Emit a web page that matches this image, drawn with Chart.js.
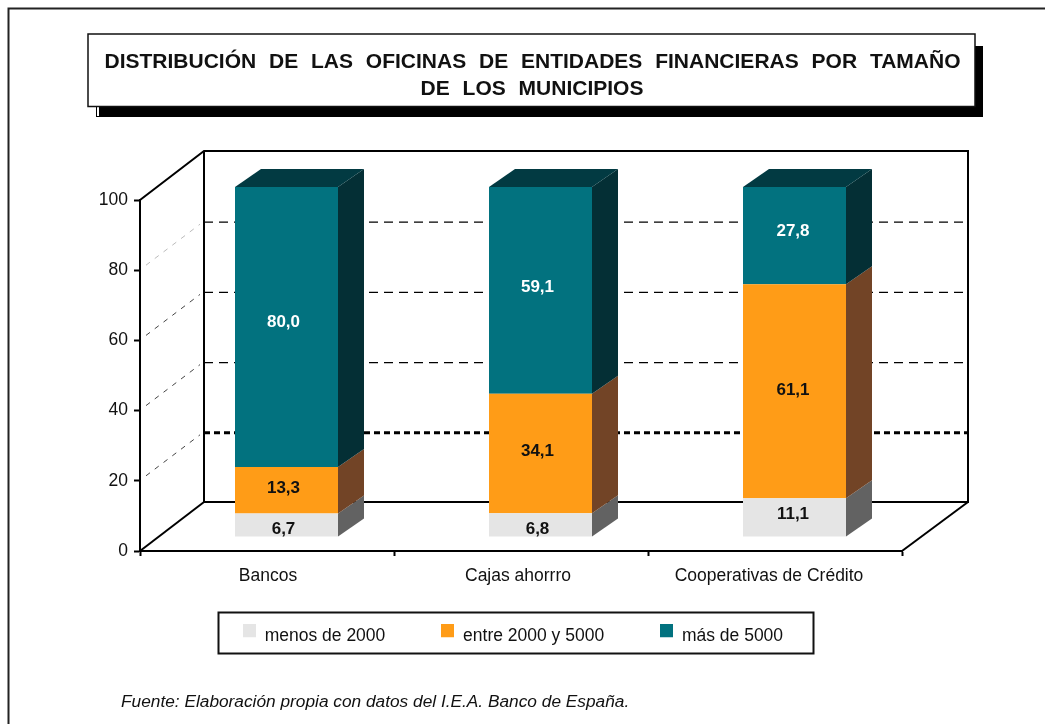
<!DOCTYPE html>
<html lang="es"><head><meta charset="utf-8">
<style>html,body{margin:0;padding:0;background:#fff}canvas{display:block}</style>
<script src="https://cdn.jsdelivr.net/npm/chart.js@4"></script>
</head><body><canvas id="c" width="1045" height="724"></canvas>
<script>
const categories = ['Bancos', 'Cajas ahorrro', 'Cooperativas de Crédito'];
const menos2000 = [6.7, 6.8, 11.1];
const entre2000y5000 = [13.3, 34.1, 61.1];
const mas5000 = [80.0, 59.1, 27.8];
const seriesNames = ['menos de 2000', 'entre 2000 y 5000', 'más de 5000'];
const titleLines = ['DISTRIBUCIÓN DE LAS OFICINAS DE ENTIDADES FINANCIERAS POR TAMAÑO', 'DE LOS MUNICIPIOS'];
const footer = 'Fuente: Elaboración propia con datos del I.E.A. Banco de España.';
const frontColors = ['#E5E5E5', '#FF9C17', '#02727F'];
const sideColors = ['#626262', '#724426', '#042F35'];
const labelColors = ['#111', '#111', '#fff'];
const topFace = '#023A42';
const FONT = '"Liberation Sans", Arial, sans-serif';
const W3D = {x: 64, y: -49, rightX: 66};
const BAR = {dx: 19.5, base: 537, k: 351 / 352, depthX: 26, depthY: -18};
const xLabelShift = [1, -3, -6];
const labelDx = [0, 0, 1.5];
const labelDy = [[4, 4, -3], [-2, -2, -1], [-5, -3, -4]];

function legendMark(color) {
  const c = document.createElement('canvas');
  c.width = 13; c.height = 24;
  const g = c.getContext('2d');
  g.fillStyle = color; g.fillRect(0, 0, 13, 13);
  return c;
}
function line(ctx, pts, w, color, dash) {
  ctx.save();
  ctx.beginPath();
  pts.forEach((p, i) => i ? ctx.lineTo(p[0], p[1]) : ctx.moveTo(p[0], p[1]));
  ctx.lineWidth = w; ctx.strokeStyle = color; ctx.setLineDash(dash || []);
  ctx.stroke();
  ctx.restore();
}
const scene = {
  id: 'scene',
  beforeDraw(chart) {
    const ctx = chart.ctx;
    ctx.save();
    ctx.fillStyle = '#fff'; ctx.fillRect(0, 0, 1045, 724);
    line(ctx, [[8.5, 724], [8.5, 8.5], [1045, 8.5]], 2, '#222');
    ctx.fillStyle = '#000'; ctx.fillRect(96, 46, 887, 71);
    ctx.fillStyle = '#fff'; ctx.fillRect(97, 107, 2, 9);
    ctx.fillRect(88, 34, 887, 73);
    ctx.strokeStyle = '#111'; ctx.lineWidth = 1.5; ctx.strokeRect(88, 34, 887, 72.5);
    ctx.fillStyle = '#111'; ctx.textAlign = 'center'; ctx.textBaseline = 'alphabetic';
    ctx.font = 'bold 21px ' + FONT;
    ctx.wordSpacing = '7px';
    ctx.fillText(titleLines[0], 532.5, 68);
    ctx.fillText(titleLines[1], 532, 95);
    ctx.wordSpacing = '0px';
    ctx.textAlign = 'left';
    ctx.font = 'italic 17.3px ' + FONT;
    ctx.fillText(footer, 121, 707);
    ctx.strokeStyle = '#111'; ctx.lineWidth = 2; ctx.strokeRect(218.5, 612.5, 595, 41);
    ctx.restore();
    const xs = chart.scales.x;
    xs.getLabelItems(chart.chartArea).forEach((it, i) => {
      it.options.translation[0] = xs.getPixelForTick(i) + xLabelShift[i];
    });
  },
  beforeDatasetsDraw(chart) {
    const ctx = chart.ctx, a = chart.chartArea, ys = chart.scales.y;
    const L = a.left, R = a.right, b = ys.getPixelForValue(0), t = ys.getPixelForValue(100);
    const bx = W3D.x, by = W3D.y, Rb = R + W3D.rightX;
    [20, 40, 60, 80].forEach(v => {
      const y = ys.getPixelForValue(v);
      line(ctx, [[L + 6, y - 5], [L + bx - 4, y + by + 3]], 1, v === 80 ? '#bbb' : '#444', [5, 6]);
      if (v === 20) line(ctx, [[L + bx, y + by + 1], [Rb, y + by + 1]], 3, '#000', [6, 4]);
      else line(ctx, [[L + bx, y + by + 1], [Rb, y + by + 1]], 1.2, '#000', [9, 6]);
    });
    line(ctx, [[L, t], [L + bx, t + by], [Rb, t + by], [Rb, b + by], [L + bx, b + by], [L + bx, t + by]], 2, '#000');
    line(ctx, [[L, b], [L + bx, b + by]], 2, '#000');
    line(ctx, [[R, b], [Rb, b + by]], 2, '#000');
  },
  beforeDatasetDraw(chart) {
    const ctx = chart.ctx, b = chart.scales.y.getPixelForValue(0);
    ctx.save();
    ctx.translate(BAR.dx, BAR.base);
    ctx.scale(1, BAR.k);
    ctx.translate(0, -b);
  },
  afterDatasetDraw(chart) { chart.ctx.restore(); },
  afterDatasetsDraw(chart) {
    const ctx = chart.ctx, b = chart.scales.y.getPixelForValue(0);
    const py = y => BAR.base + (y - b) * BAR.k;
    const n = chart.data.datasets.length;
    ctx.save();
    chart.data.datasets.forEach((ds, d) => {
      chart.getDatasetMeta(d).data.forEach((el, i) => {
        const l = el.x - el.width / 2 + BAR.dx, r = l + el.width;
        const yt = py(el.y), yb = py(el.base);
        ctx.fillStyle = sideColors[d];
        ctx.beginPath();
        ctx.moveTo(r, yt); ctx.lineTo(r + BAR.depthX, yt + BAR.depthY);
        ctx.lineTo(r + BAR.depthX, yb + BAR.depthY); ctx.lineTo(r, yb);
        ctx.closePath(); ctx.fill();
        if (d === n - 1) {
          ctx.fillStyle = topFace;
          ctx.beginPath();
          ctx.moveTo(l, yt); ctx.lineTo(l + BAR.depthX, yt + BAR.depthY);
          ctx.lineTo(r + BAR.depthX, yt + BAR.depthY); ctx.lineTo(r, yt);
          ctx.closePath(); ctx.fill();
        }
      });
    });
    ctx.font = 'bold 17px ' + FONT;
    ctx.textAlign = 'center'; ctx.textBaseline = 'middle';
    chart.data.datasets.forEach((ds, d) => {
      chart.getDatasetMeta(d).data.forEach((el, i) => {
        ctx.fillStyle = labelColors[d];
        ctx.fillText(ds.data[i].toFixed(1).replace('.', ','), el.x + BAR.dx - 3 + labelDx[i], (py(el.y) + py(el.base)) / 2 + labelDy[d][i]);
      });
    });
    ctx.restore();
  }
};
new Chart(document.getElementById('c'), {
  type: 'bar',
  data: {
    labels: categories,
    datasets: [menos2000, entre2000y5000, mas5000].map((v, i) => ({
      label: seriesNames[i], data: v, backgroundColor: frontColors[i], borderWidth: 0,
      categoryPercentage: 1, barPercentage: 103 / 254
    }))
  },
  options: {
    responsive: false, animation: false, devicePixelRatio: 1,
    layout: {padding: {left: 124, right: 143, top: 200, bottom: 69}},
    plugins: {
      title: {display: false}, tooltip: {enabled: false},
      legend: {
        display: true, position: 'bottom',
        labels: {
          color: '#111', font: {family: FONT, size: 17.5}, padding: 56, usePointStyle: true, boxWidth: 13,
          generateLabels: chart => chart.data.datasets.map((ds, i) => ({
            text: ds.label, datasetIndex: i, pointStyle: legendMark(frontColors[i]),
            fillStyle: frontColors[i], strokeStyle: frontColors[i], lineWidth: 0, fontColor: '#111'
          }))
        }
      }
    },
    scales: {
      x: {
        stacked: true,
        afterFit(s) { s.height = 20.5; s._computeLabelArea = () => null; },
        grid: {display: true, drawOnChartArea: false, drawTicks: true, tickLength: 5, tickWidth: 2, tickColor: '#000'},
        border: {display: true, color: '#000', width: 2},
        ticks: {color: '#111', font: {family: FONT, size: 17.5}, padding: 10, maxRotation: 0, autoSkip: false}
      },
      y: {
        stacked: true, min: 0, max: 100,
        afterFit(s) { s.width = 16; s._computeLabelArea = () => null; },
        grid: {display: true, drawOnChartArea: false, drawTicks: true, tickLength: 6, tickWidth: 2, tickColor: '#000'},
        border: {display: true, color: '#000', width: 2},
        ticks: {stepSize: 20, color: '#111', font: {family: FONT, size: 17.5}, padding: 6}
      }
    }
  },
  plugins: [scene]
});
</script></body></html>
